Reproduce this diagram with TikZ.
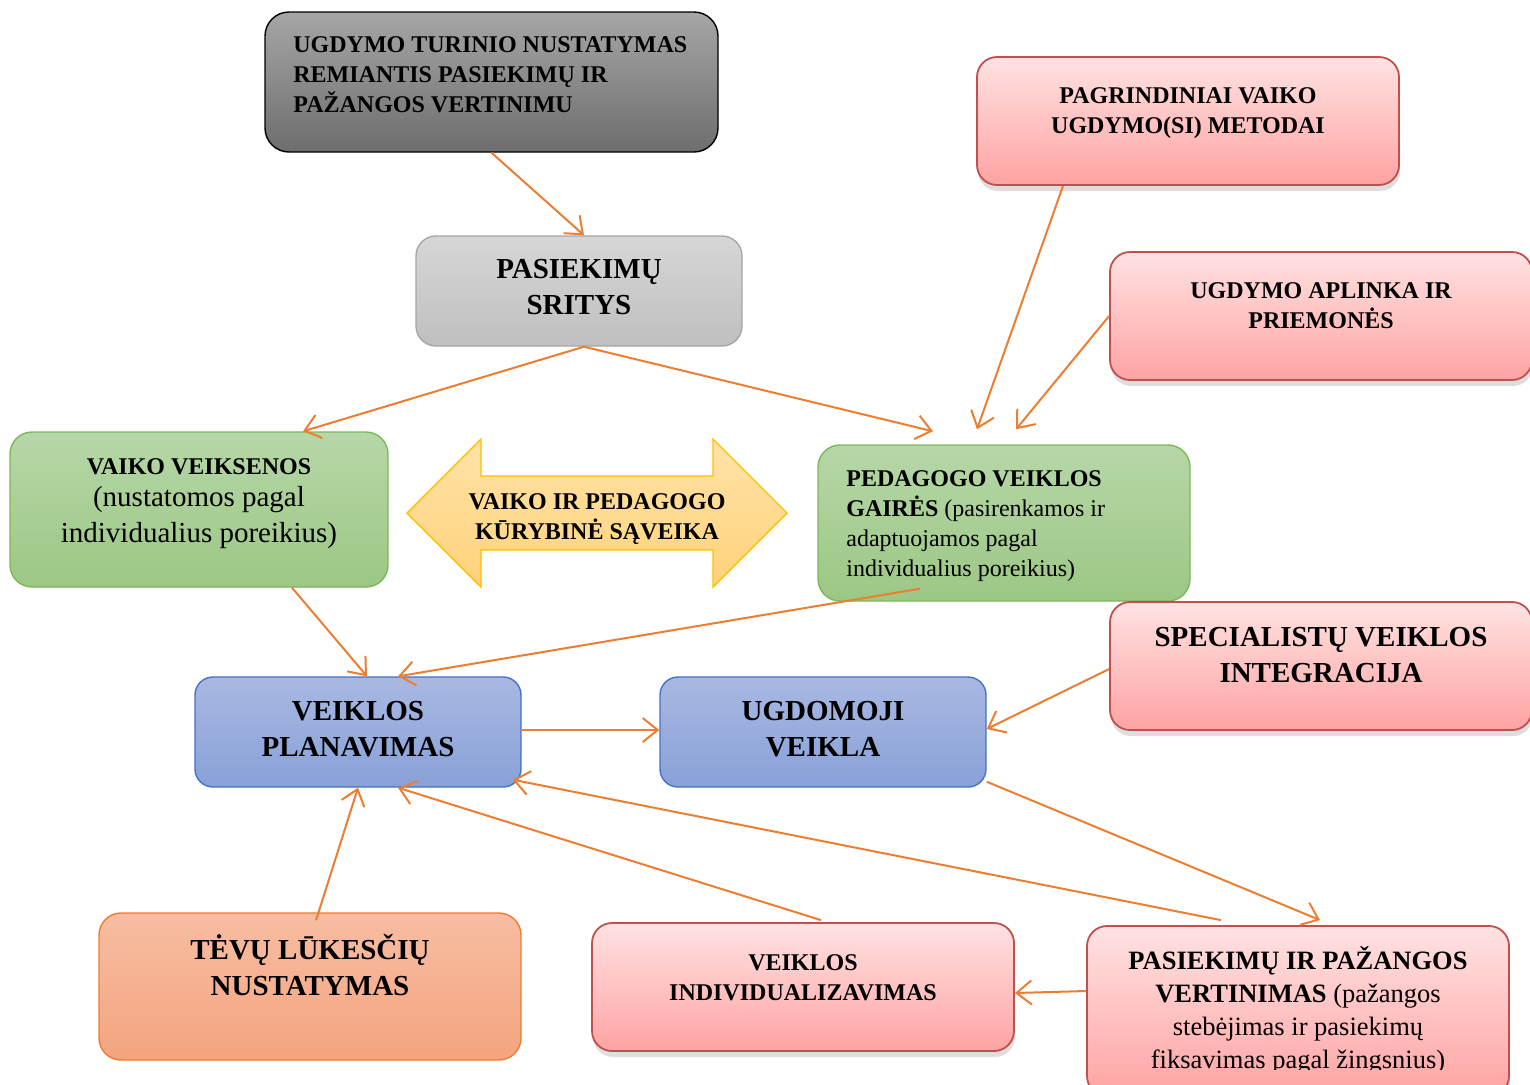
\documentclass[tikz,border=0pt]{standalone}
\usepackage{fontspec}
\setmainfont{Liberation Serif}
\usetikzlibrary{arrows.meta,shadows,calc}
\definecolor{arr}{HTML}{ED7D31}
\definecolor{pinkT}{HTML}{FFE2E2}
\definecolor{pinkB}{HTML}{FFA3A3}
\definecolor{pinkD}{HTML}{C0504D}
\definecolor{grnT}{HTML}{B6D7A8}
\definecolor{grnB}{HTML}{9CC784}
\definecolor{grnD}{HTML}{7DB75A}
\definecolor{bluT}{HTML}{A9B8E2}
\definecolor{bluB}{HTML}{88A1D8}
\definecolor{bluD}{HTML}{4472C4}
\definecolor{orT}{HTML}{F7BDA2}
\definecolor{orB}{HTML}{F4A47F}
\definecolor{orD}{HTML}{ED7D31}
\definecolor{ylT}{HTML}{FFE3A8}
\definecolor{ylB}{HTML}{FFD27A}
\definecolor{ylD}{HTML}{FFC000}
\newcommand{\fsSmall}{\bfseries\fontsize{12}{15}\selectfont}
\newcommand{\fsBig}{\bfseries\fontsize{14.5}{18}\selectfont}
\begin{document}
\begin{tikzpicture}[x=0.5pt,y=-0.5pt,
  box/.style={draw, rounded corners=10pt, line width=0.7pt, inner sep=0pt},
  darkbox/.style={box, rounded corners=12pt, draw=black, top color=black!35, bottom color=black!57},
  greybox/.style={box, draw=black!35, top color=black!16, bottom color=black!25},
  pinkbox/.style={box, draw=pinkD, line width=0.9pt, top color=pinkT, bottom color=pinkB,
     drop shadow={shadow xshift=0.5pt, shadow yshift=-3pt, fill=black, opacity=0.13}},
  greenbox/.style={box, rounded corners=11pt, draw=grnD, top color=grnT, bottom color=grnB},
  bluebox/.style={box, rounded corners=9pt, draw=bluD, top color=bluT, bottom color=bluB},
  orbox/.style={box, rounded corners=11pt, draw=orD, top color=orT, bottom color=orB},
  txt/.style={inner sep=0pt, align=center},
  conn/.style={draw=arr, line width=1pt, -{Straight Barb[length=7.5pt,width=12pt,line width=1pt]}}
]
\path[use as bounding box, clip] (0,0) rectangle (1530,1084);

% boxes
\node[darkbox, minimum width=226.5pt, minimum height=70pt] (b1) at (491.5,82) {};
\node[greybox, minimum width=163pt, minimum height=55pt] (b2) at (579,291) {};
\node[pinkbox, minimum width=211pt, minimum height=64pt] (b3) at (1188,121) {};
\node[pinkbox, minimum width=211pt, minimum height=64pt] (b4) at (1321,316) {};
\node[greenbox, minimum width=189pt, minimum height=77.5pt] (g1) at (199,509.5) {};
\node[greenbox, minimum width=186pt, minimum height=78pt] (g2) at (1004,523) {};
\node[bluebox, minimum width=163pt, minimum height=55pt] (p1) at (358,732) {};
\node[bluebox, minimum width=163pt, minimum height=55pt] (p2) at (823,732) {};
\node[pinkbox, minimum width=211pt, minimum height=64pt] (s1) at (1321,666) {};
\node[orbox, minimum width=211pt, minimum height=73.5pt] (o1) at (310,986.5) {};
\node[pinkbox, minimum width=211pt, minimum height=64pt] (r1) at (803,987) {};
\node[pinkbox, minimum width=211pt, minimum height=85pt] (r2) at (1298,1011) {};

% double arrow
\draw[draw=ylD, line width=0.7pt, top color=ylT, bottom color=ylB]
  (407,513) -- (481,439) -- (481,476) -- (713,476) -- (713,439) -- (787,513)
  -- (713,587) -- (713,550) -- (481,550) -- (481,587) -- cycle;

% texts
\node[txt, align=left, anchor=west, font=\fsSmall] (t1) at (293,75)
  {UGDYMO TURINIO NUSTATYMAS\\REMIANTIS PASIEKIMŲ IR\\PAŽANGOS VERTINIMU};
\node[txt, font=\fsBig] (t2) at (579,287) {PASIEKIMŲ\\SRITYS};
\node[txt, font=\fsSmall] (t3) at (1188,113) {PAGRINDINIAI VAIKO\\UGDYMO(SI) METODAI};
\node[txt, font=\fsSmall] (t4) at (1321,306) {UGDYMO APLINKA IR\\PRIEMONĖS};
\node[txt, font=\fontsize{14.5}{18}\selectfont] (t5) at (199,504)
  {{\fsSmall VAIKO VEIKSENOS}\\[-2pt](nustatomos pagal\\individualius poreikius)};
\node[txt, font=\fsSmall] (t6) at (597,519) {VAIKO IR PEDAGOGO\\KŪRYBINĖ SĄVEIKA};
\node[txt, align=left, anchor=west, font=\fontsize{12}{15}\selectfont] (t7) at (846,526)
  {\textbf{PEDAGOGO VEIKLOS}\\\textbf{GAIRĖS} (pasirenkamos ir\\adaptuojamos pagal\\individualius poreikius)};
\node[txt, font=\fsBig] (t8) at (358,729) {VEIKLOS\\PLANAVIMAS};
\node[txt, font=\fsBig] (t9) at (823,729) {UGDOMOJI\\VEIKLA};
\node[txt, font=\fsBig] (t10) at (1321,655) {SPECIALISTŲ VEIKLOS\\INTEGRACIJA};
\node[txt, font=\fsBig] (t11) at (310,965) {TĖVŲ LŪKESČIŲ\\NUSTATYMAS};
\node[txt, font=\fsSmall] (t12) at (803,978) {VEIKLOS\\INDIVIDUALIZAVIMAS};
\begin{scope}
\clip (1087,900) rectangle (1509,1069);
\node[txt, font=\fontsize{13.25}{16.5}\selectfont] (t13) at (1298,1010)
  {\textbf{PASIEKIMŲ IR PAŽANGOS}\\\textbf{VERTINIMAS} (pažangos\\stebėjimas ir pasiekimų\\fiksavimas pagal žingsnius)};
\end{scope}

% connectors
\draw[conn] (b1.south) -- ([xshift=2.5pt]b2.north);
\draw[conn] ([xshift=2.5pt]b2.south) -- ([xshift=52pt]g1.north);
\draw[conn] ([xshift=2.5pt]b2.south) -- ([xshift=-35.5pt,yshift=6.5pt]g2.north);
\draw[conn] ([xshift=-62.5pt]b3.south) -- ([xshift=-13.5pt,yshift=7.5pt]g2.north);
\draw[conn] (b4.west) -- ([xshift=6pt,yshift=7.5pt]g2.north);
\draw[conn] ([xshift=46.5pt]g1.south) -- ([xshift=4.5pt]p1.north);
\draw[conn] ([xshift=-42pt,yshift=6.5pt]g2.south) -- ([xshift=20pt]p1.north);
\draw[conn] ([yshift=1pt]p1.east) -- ([yshift=1pt]p2.west);
\draw[conn] ([yshift=-1.5pt]s1.west) -- ([yshift=1.5pt]p2.east);
\draw[conn] ([yshift=3pt]p2.south east) -- ([xshift=11pt,yshift=2.5pt]r2.north);
\draw[conn] ([xshift=-38.5pt,yshift=2.5pt]r2.north) -- ([xshift=-4.5pt,yshift=4pt]p1.south east);
\draw[conn] ([xshift=9pt,yshift=1pt]r1.north) -- ([xshift=20pt]p1.south);
\draw[conn] ([xshift=3pt,yshift=-4pt]o1.north) -- (p1.south);
\draw[conn] ([yshift=10pt]r2.west) -- ([yshift=-3pt]r1.east);
\end{tikzpicture}
\end{document}
